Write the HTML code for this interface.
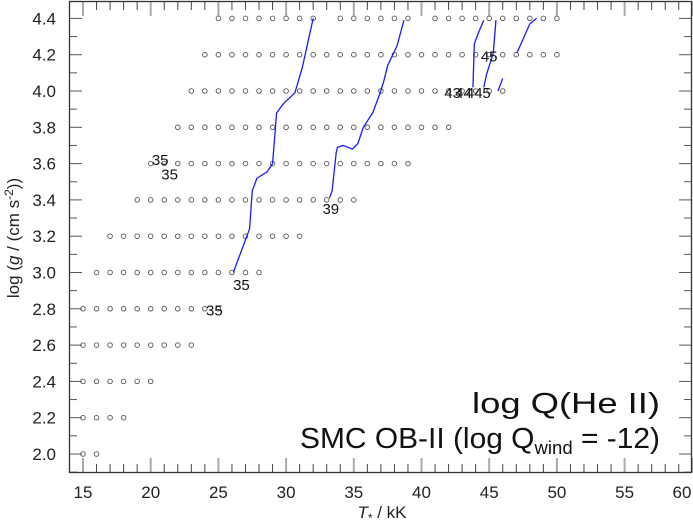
<!DOCTYPE html>
<html><head><meta charset="utf-8"><style>
body{margin:0;background:#fff;}
svg{display:block;font-family:"Liberation Sans",sans-serif;}
</style></head><body>
<svg id="chart" width="693" height="524" viewBox="0 0 693 524" xmlns="http://www.w3.org/2000/svg">
<rect x="0" y="0" width="693" height="524" fill="#fff"/>
<g id="ticks"></g>
<g id="grid"></g>
<g id="lines"></g>
<g id="labels"></g>
<rect x="69.5" y="1.5" width="622" height="471" fill="none" stroke="#333" stroke-width="1.3"/>
<g id="axlabels" font-size="17" fill="#222"></g>
<text x="382" y="518" font-size="17" text-anchor="middle" fill="#222"><tspan font-style="italic">T</tspan><tspan font-size="12" dy="4">*</tspan><tspan dy="-4"> / kK</tspan></text>
<text transform="translate(19,238) rotate(-90)" font-size="17" text-anchor="middle" fill="#222">log (<tspan font-style="italic">g</tspan> / (cm s<tspan font-size="12" dy="-6">-2</tspan><tspan dy="6">))</tspan></text>
<text x="472" y="413" font-size="29" textLength="188" lengthAdjust="spacingAndGlyphs" fill="#111">log Q(He II)</text>
<text x="300" y="448" font-size="29" textLength="360" lengthAdjust="spacingAndGlyphs" fill="#111">SMC OB-II (log Q<tspan font-size="18" dy="6">wind</tspan><tspan dy="-6"> = -12)</tspan></text>
</svg>
<script>
const xTicks=[15,20,25,30,35,40,45,50,55,60];
const yTicks=[2.0,2.2,2.4,2.6,2.8,3.0,3.2,3.4,3.6,3.8,4.0,4.2,4.4];
const rowLogg=[4.4,4.2,4.0,3.8,3.6,3.4,3.2,3.0,2.8,2.6,2.4,2.2,2.0];
const rowTmin=[25,24,23,22,20,19,17,16,15,15,15,15,15];
const rowTmax=[50,50,46,42,39,35,31,28,25,23,20,18,16];
const missing=[[4.4,33],[4.4,40]];
const lineA_T=[26.1,27.3,27.5,27.85,28.6,29.0,29.3,29.8,30.65,31.2,32.0];
const lineA_g=[3.0,3.24,3.45,3.52,3.555,3.60,3.88,3.93,3.99,4.13,4.4];
const lineB_T=[33.2,33.4,33.7,33.8,34.2,34.9,35.3,35.7,36.4,36.9,37.2,37.5,38.2,38.7];
const lineB_g=[3.41,3.45,3.66,3.69,3.70,3.68,3.71,3.80,3.88,3.98,4.05,4.14,4.25,4.39];
const lineC_T=[43.8,43.9,44.2,44.6];
const lineC_g=[4.02,4.26,4.32,4.39];
const lineD_T=[44.6,44.8,45.3,45.5];
const lineD_g=[4.02,4.09,4.21,4.39];
const lineE_T=[45.65,46.0];
const lineE_g=[4.0,4.07];
const lineF_T=[47.05,48.0,48.5];
const lineF_g=[4.21,4.37,4.4];
const labelText=["35","35","35","35","39","43","44","44","5","45"];
const labelT=[20.7,21.4,26.7,24.7,33.3,42.3,43.1,43.9,44.8,45.0];
const labelG=[3.62,3.54,2.93,2.79,3.35,3.99,3.99,3.99,3.99,4.19];

const X=t=>83+(t-15)*13.54;
const Y=g=>454-(g-2)*181.5;
const NS="http://www.w3.org/2000/svg";
function mk(tag,parent){const e=document.createElementNS(NS,tag);parent.appendChild(e);return e;}
const tk=document.getElementById('ticks');
for(let t=14;t<=60;t++){
  const major=t%5===0;
  for(const [y0,dir] of [[472,-1],[2,1]]){
    const l=mk('line',tk);
    
    
    l.setAttribute('x1',X(t));l.setAttribute('x2',X(t));
    l.setAttribute('y1',y0);l.setAttribute('y2',y0+dir*(major?14:8));
    l.setAttribute('stroke',major?'#aaa':'#444');l.setAttribute('stroke-width',major?2:1);
  }
}
for(let i=0;i<=25;i++){
  const g=1.9+i*0.1;const major=i%2===1;
  for(const [x0,dir] of [[70,1],[691,-1]]){
    const l=mk('line',tk);
    
    
    l.setAttribute('x1',x0);l.setAttribute('x2',x0+dir*(major?12:7));
    l.setAttribute('y1',Y(g));l.setAttribute('y2',Y(g));
    l.setAttribute('stroke','#555');l.setAttribute('stroke-width',1);
  }
}
const al=document.getElementById('axlabels');
xTicks.forEach(t=>{const e=mk('text',al);


e.setAttribute('x',Math.min(X(t),682));e.setAttribute('y',498);e.setAttribute('text-anchor','middle');e.textContent=t;});
yTicks.forEach(g=>{const e=mk('text',al);


e.setAttribute('x',56);e.setAttribute('y',Y(g)+6);e.setAttribute('text-anchor','end');e.textContent=g.toFixed(1);});
const gr=document.getElementById('grid');
rowLogg.forEach((g,i)=>{for(let t=rowTmin[i];t<=rowTmax[i];t++){
  if(missing.some(m=>m[0]===g&&m[1]===t))continue;
  const c=mk('circle',gr);
  
  
  c.setAttribute('cx',X(t));c.setAttribute('cy',Y(g));c.setAttribute('r',2.3);
  c.setAttribute('fill','none');c.setAttribute('stroke','#555');c.setAttribute('stroke-width',0.9);
}});
const ln=document.getElementById('lines');
[[lineA_T,lineA_g],[lineB_T,lineB_g],[lineC_T,lineC_g],[lineD_T,lineD_g],[lineE_T,lineE_g],[lineF_T,lineF_g]].forEach(([ts,gs])=>{
  const p=mk('polyline',ln);
  
  
  p.setAttribute('points',ts.map((t,i)=>X(t)+','+Y(gs[i])).join(' '));
  p.setAttribute('fill','none');p.setAttribute('stroke','#1a1aff');p.setAttribute('stroke-width',1.3);
  p.setAttribute('stroke-linejoin','round');
});
const lb=document.getElementById('labels');
labelText.forEach((s,i)=>{const e=mk('text',lb);


e.setAttribute('x',X(labelT[i]));e.setAttribute('y',Y(labelG[i])+5);e.setAttribute('text-anchor','middle');
e.setAttribute('font-size','15');e.setAttribute('fill','#111');e.textContent=s;});
</script>
</body></html>
